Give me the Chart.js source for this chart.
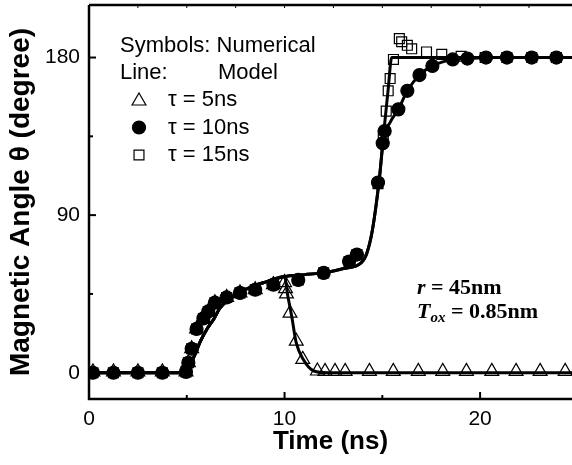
<!DOCTYPE html>
<html>
<head>
<meta charset="utf-8">
<script src="https://cdn.jsdelivr.net/npm/chart.js@4/dist/chart.umd.min.js"></script>
<style>
  html, body { margin: 0; padding: 0; background: #fff; }
</style>
</head>
<body>
<canvas id="angleChart" width="572" height="465"></canvas>
<script>
// tick labels
const xTicks = [0, 10, 20];
const yTicks = [0, 90, 180];

// numerical results (symbols), time in ns, angle in degree
const tau5Time  = [0.2, 1.25, 2.5, 3.75, 4.96, 5.08, 5.25, 5.5, 5.85, 6.1, 6.44, 7.04, 7.72, 8.5, 9.43,
                   10.0, 10.05, 10.1, 10.28, 10.6, 10.93, 11.68, 12.07, 12.58, 13.1, 14.34, 15.56, 16.84,
                   18.09, 19.3, 20.6, 21.84, 23.07, 24.35];
const tau5Angle = [0.5, 0.5, 0.5, 0.5, 0.5, 5.7, 13.7, 25, 31, 35, 40, 43, 45.6, 47.4, 50.3,
                   51.5, 48, 45, 34, 18, 7.6, 1, 0.8, 0.8, 0.8, 0.8, 0.8, 0.8,
                   0.8, 0.8, 0.8, 0.8, 0.8, 0.8];

const tau10Time  = [0.2, 1.25, 2.5, 3.75, 4.96, 5.08, 5.25, 5.5, 5.85, 6.1, 6.44, 7.04, 7.72, 8.5, 9.43,
                    10.7, 12.0, 13.3, 13.7, 14.78, 15.02, 15.12, 15.82, 16.28, 16.9, 17.56, 18.6, 19.35,
                    20.3, 21.37, 22.64, 23.9];
const tau10Angle = [0, 0, 0, 0, 0.5, 5.7, 13.7, 25, 31, 35, 40, 43, 45.6, 47.4, 50.3,
                    53, 57, 63.5, 67.5, 108.6, 131, 138, 150.4, 161, 170, 175.2, 178.9, 179.4,
                    180, 180, 180, 180];

const tau15Time  = [0.2, 1.25, 2.5, 3.75, 4.96, 5.08, 5.25, 5.5, 5.85, 6.1, 6.44, 7.04, 7.72, 8.5, 9.43,
                    10.7, 12.0, 13.3, 13.7, 14.78, 15.05, 15.2, 15.3, 15.4, 15.57, 15.87, 15.99, 16.28,
                    16.5, 17.26, 18.04, 19.03, 20.26, 21.37, 22.64, 23.9];
const tau15Angle = [0, 0, 0, 0, 0.5, 5.7, 13.7, 25, 31, 35, 40, 43, 45.6, 47.4, 50.3,
                    53, 57, 63.5, 67.5, 108, 135.7, 149.4, 161, 168, 178.9, 190.8, 189, 187,
                    185, 183.2, 181.8, 180.7, 180, 180, 180, 180];

// model curves (lines)
const model5Time  = [0, 5.0, 5.2, 5.42, 5.7, 6.02, 6.4, 6.7, 7.2, 7.72, 8.4, 9.1, 10.0,
                     10.15, 10.37, 10.6, 10.96, 11.5, 12.2, 24.7];
const model5Angle = [0, 0, 5, 10.4, 18, 24.7, 31, 37, 42, 46, 49.5, 52, 55,
                     45, 32, 17, 7.6, 1, 0, 0];

const model10Time  = [0, 5.0, 5.2, 5.42, 5.7, 6.02, 6.4, 6.7, 7.2, 7.72, 8.4, 9.1, 10.0, 11.0, 12.16,
                      13.0, 13.9, 14.2, 14.5, 14.85, 15.05, 15.4, 15.82, 16.28, 16.9, 17.56, 18.6, 19.35,
                      20.3, 24.7];
const model10Angle = [0, 0, 5, 10.4, 18, 24.7, 31, 37, 42, 46, 49.5, 52, 55, 56, 57.3,
                      59.5, 62.6, 68, 82, 111, 133, 143, 150.4, 161, 170, 175.2, 178.9, 179.4,
                      180, 180];

const model15Time  = [0, 5.0, 5.2, 5.42, 5.7, 6.02, 6.4, 6.7, 7.2, 7.72, 8.4, 9.1, 10.0, 11.0, 12.16,
                      13.0, 13.9, 14.2, 14.5, 14.85, 15.1, 15.3, 15.48, 24.7];
const model15Angle = [0, 0, 5, 10.4, 18, 24.7, 31, 37, 42, 46, 49.5, 52, 55, 56, 57.3,
                      59.5, 62.6, 68, 82, 111, 140, 162, 180, 180];

const pts = (ts, as) => ts.map((t, i) => ({ x: t, y: as[i] }));

const sans = 'Liberation Sans, Arial, sans-serif';
const serif = 'Liberation Serif, Times New Roman, serif';

function modelSet(ts, as) {
  return {
    data: pts(ts, as), showLine: true, pointRadius: 0, borderColor: '#000',
    borderWidth: 3, cubicInterpolationMode: 'monotone', order: 4
  };
}
function symbolSet(ts, as, style, r, fill, ord) {
  return {
    data: pts(ts, as), showLine: false, pointStyle: style, pointRadius: r,
    borderColor: '#000', backgroundColor: fill, borderWidth: 1.2, order: ord
  };
}

// axes frame, inward ticks, legend text and annotation
const framePlugin = {
  id: 'frame',
  afterDraw(chart) {
    const { ctx, chartArea: a, scales: { x, y } } = chart;
    ctx.save();
    ctx.strokeStyle = '#000';
    ctx.lineWidth = 2.5;
    ctx.beginPath();
    ctx.moveTo(a.left, a.top);
    ctx.lineTo(a.left, a.bottom);
    ctx.lineTo(a.right, a.bottom);
    ctx.moveTo(a.left, a.top);
    ctx.lineTo(a.right, a.top);
    ctx.stroke();

    ctx.lineWidth = 2;
    for (let v = 5; v < x.max; v += 5) {
      const px = x.getPixelForValue(v);
      const len = v % 10 === 0 ? 7 : 4;
      ctx.beginPath(); ctx.moveTo(px, a.bottom); ctx.lineTo(px, a.bottom - len); ctx.stroke();
    }
    for (let v = 45; v < y.max; v += 45) {
      const py = y.getPixelForValue(v);
      const len = v % 90 === 0 ? 7 : 4;
      ctx.beginPath(); ctx.moveTo(a.left, py); ctx.lineTo(a.left + len, py); ctx.stroke();
    }
    ctx.lineWidth = 1;
    for (let v = 2.5; v < x.max; v += 2.5) {
      const px = x.getPixelForValue(v);
      ctx.beginPath(); ctx.moveTo(px, a.top); ctx.lineTo(px, a.top + 3); ctx.stroke();
    }

    // legend
    ctx.fillStyle = '#000';
    ctx.textBaseline = 'middle';
    ctx.textAlign = 'left';
    ctx.font = '22px ' + sans;
    ctx.fillText('Symbols: Numerical', 120, 46);
    ctx.fillText('Line:', 120, 73);
    ctx.fillText('Model', 218, 73);
    const rows = [['triangle', 8, 'τ = 5ns', false], ['circle', 6.5, 'τ = 10ns', true], ['rect', 7, 'τ = 15ns', false]];
    rows.forEach((r, i) => {
      const cy = 100 + i * 27.5;
      ctx.lineWidth = 1.2;
      ctx.fillStyle = r[3] ? '#000' : 'rgba(0,0,0,0)';
      Chart.helpers.drawPoint(ctx, { pointStyle: r[0], radius: r[1], borderWidth: 1.2 }, 139, cy + (r[0] === 'triangle' ? 1 : 0));
      if (r[3]) ctx.fill();
      ctx.fillStyle = '#000';
      ctx.fillText(r[2], 168, cy);
    });

    // annotation
    let cx = 417;
    ctx.font = 'italic bold 22px ' + serif;
    ctx.fillText('r', cx, 288);
    cx += ctx.measureText('r').width;
    ctx.font = 'bold 22px ' + serif;
    ctx.fillText(' = 45nm', cx, 288);
    cx = 417;
    ctx.font = 'italic bold 22px ' + serif;
    ctx.fillText('T', cx, 312);
    cx += ctx.measureText('T').width;
    ctx.font = 'italic bold 15px ' + serif;
    ctx.fillText('ox', cx, 318);
    cx += ctx.measureText('ox').width;
    ctx.font = 'bold 22px ' + serif;
    ctx.fillText(' = 0.85nm', cx, 312);
    ctx.restore();
  }
};

new Chart(document.getElementById('angleChart').getContext('2d'), {
  type: 'scatter',
  data: {
    datasets: [
      modelSet(model5Time, model5Angle),
      modelSet(model10Time, model10Angle),
      modelSet(model15Time, model15Angle),
      symbolSet(tau10Time, tau10Angle, 'circle', 6.5, '#000', 1),
      symbolSet(tau15Time, tau15Angle, 'rect', 7, 'rgba(0,0,0,0)', 2),
      symbolSet(tau5Time, tau5Angle, 'triangle', 8, 'rgba(0,0,0,0)', 3)
    ]
  },
  options: {
    responsive: false,
    animation: false,
    events: [],
    layout: { autoPadding: false, padding: { top: 5, right: 0, bottom: 0, left: 0 } },
    plugins: { legend: { display: false }, tooltip: { enabled: false } },
    scales: {
      x: {
        type: 'linear', min: 0, max: 24.7,
        afterBuildTicks: (s) => { s.ticks = xTicks.map((v) => ({ value: v })); },
        afterFit: (s) => { s.height = 66; s.paddingLeft = 0; s.paddingRight = 0; },
        grid: { display: false, drawTicks: false },
        border: { display: false },
        ticks: { color: '#000', padding: 8, font: { family: sans, size: 21 } },
        title: { display: true, text: 'Time (ns)', color: '#000', padding: { top: 0, bottom: 8 },
                 font: { family: sans, size: 26, weight: 'bold' } }
      },
      y: {
        type: 'linear', min: -15, max: 210,
        afterBuildTicks: (s) => { s.ticks = yTicks.map((v) => ({ value: v })); },
        afterFit: (s) => { s.width = 89; s.paddingTop = 0; s.paddingBottom = 0; },
        grid: { display: false, drawTicks: false },
        border: { display: false },
        ticks: { color: '#000', padding: 9, font: { family: sans, size: 21 } },
        title: { display: true, text: 'Magnetic Angle θ (degree)', color: '#000', padding: { top: 4, bottom: 0 },
                 font: { family: sans, size: 28, weight: 'bold' } }
      }
    }
  },
  plugins: [framePlugin]
});
</script>
</body>
</html>
